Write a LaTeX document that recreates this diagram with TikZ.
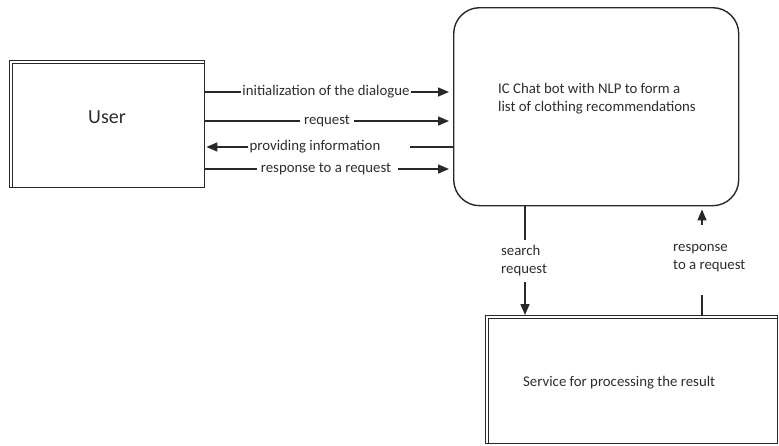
\documentclass[tikz,border=0pt]{standalone}
\usepackage{fontspec}
\setmainfont{Carlito}
\usetikzlibrary{arrows.meta,calc}
\tikzset{>={Triangle[width=9pt,length=11pt]}}
\definecolor{LineGray}{RGB}{40,40,40}
\definecolor{TextGray}{RGB}{45,45,45}
\tikzset{
  boxline/.style={draw=LineGray,line width=1.4pt},
  flowline/.style={draw=LineGray,line width=1.5pt},
  lbl/.style={inner sep=1pt,text=TextGray,font=\fontsize{14.8}{16}\selectfont},
}

\begin{document}
\begin{tikzpicture}[x=1pt,y=-1pt]
		\useasboundingbox (0,0) rectangle (779,445);

		% user box
		\node[boxline,minimum width=195pt,minimum height=127pt,anchor=north west] (user) at (9,60) {};
		\draw[flowline,line width=1pt] ($(user.south west)+(3,0)$) -- ($(user.north west)+(3,3)$) -- ($(user.north east)+(0,3)$);
		\node[text=TextGray,font=\fontsize{20}{22}\selectfont] (usertxt) at (107,117) {User};

		% chat bot box
		\node[boxline,rounded corners=26pt,minimum width=285pt,minimum height=198pt,anchor=north west] (bot) at (453,7) {};
		\node[lbl,anchor=west,align=left,font=\fontsize{14.8}{18}\selectfont] (bottxt) at (497,99) {IC Chat bot with NLP to form a\\list of clothing recommendations};

		% service box
		\node[boxline,minimum width=292pt,minimum height=128pt,anchor=north west] (serv) at (485,315) {};
		\draw[flowline,line width=1pt] ($(serv.south west)+(3,0)$) -- ($(serv.north west)+(3,3)$) -- ($(serv.north east)+(0,3)$);
		\node[lbl,anchor=west] (servtxt) at (522,383) {Service for processing the result};

		% user to bot
		\node[lbl] (init) at (326,92) {initialization of the dialogue};
		\draw[flowline] (user.east |- init) -- (init.west);
		\draw[flowline,->,shorten >=4pt] (init.east) -- (bot.west |- init);

		\node[lbl] (req) at (327,121) {request};
		\draw[flowline] (user.east |- req) -- ([xshift=-3pt]req.west);
		\draw[flowline,->,shorten >=4pt] ([xshift=3pt]req.east) -- (bot.west |- req);

		% bot to user
		\node[lbl] (prov) at (315,147) {providing information};
		\coordinate (provend) at (410,147);
		\draw[flowline,->,shorten >=1pt] (prov.west) -- (user.east |- prov);
		\draw[flowline] (provend) -- (bot.west |- prov);

		\node[lbl] (resp) at (326,169) {response to a request};
		\draw[flowline] (user.east |- resp) -- ([xshift=-3pt]resp.west);
		\draw[flowline,->,shorten >=4pt] ([xshift=6pt]resp.east) -- (bot.west |- resp);

		% bot to service
		\node[lbl,anchor=west,align=left,font=\fontsize{14.8}{18}\selectfont] (srch) at (500,261) {search\\request};
		\coordinate (srchtop) at (525,240);
		\coordinate (srchbot) at (525,282);
		\draw[flowline] (bot.south -| srchtop) -- (srchtop);
		\draw[flowline,->] (srchbot) -- (serv.north -| srchbot);

		% service to bot
		\node[lbl,anchor=west,align=left,font=\fontsize{14.8}{18}\selectfont] (rsp) at (672,258) {response\\to a request};
		\coordinate (rsptop) at (702,225);
		\coordinate (rspbot) at (702,295);
		\draw[flowline] (serv.north -| rspbot) -- (rspbot);
		\draw[flowline,->,shorten >=3pt] (rsptop) -- (bot.south -| rsptop);

	\end{tikzpicture}
\end{document}
